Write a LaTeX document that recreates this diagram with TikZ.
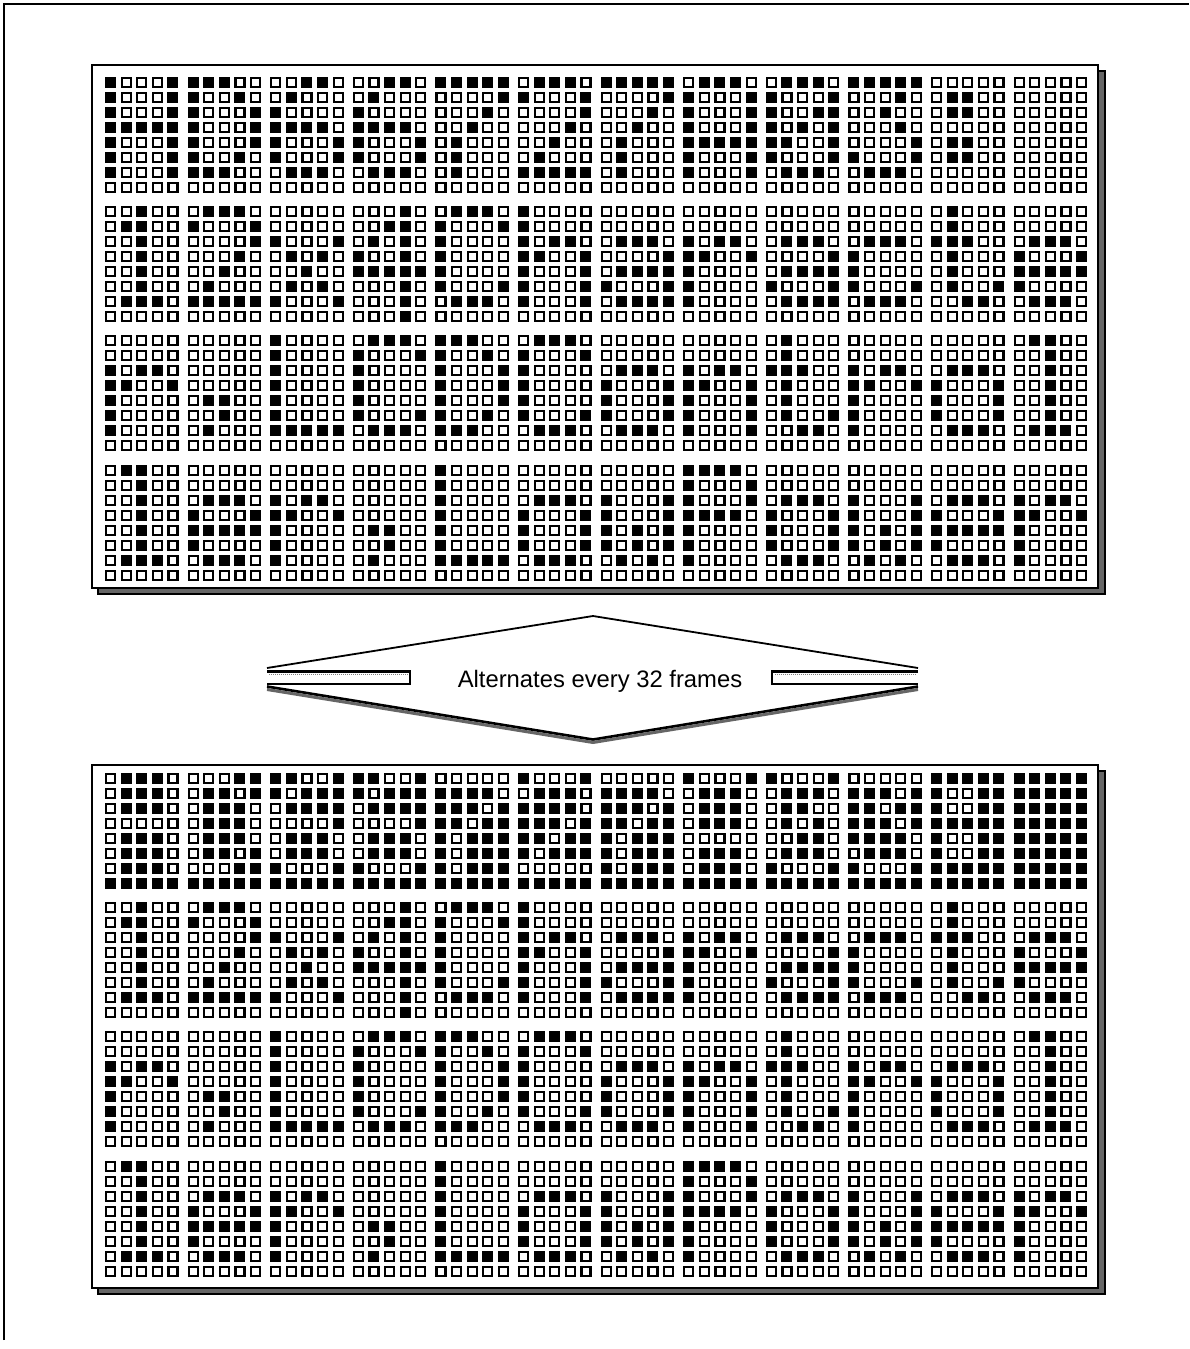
\documentclass[tikz,border=0pt]{standalone}
\usepackage{fontspec}
\setmainfont{Liberation Sans}
\newcount\lcdinv
% one dot: column, row, bit  (uses \lcdX, \lcdY of the glyph)
\newcommand\lcddot[3]{%
  \pgfmathsetmacro\dotXpos{\lcdX+15.6*#1}%
  \pgfmathsetmacro\dotYpos{\lcdY+15*#2}%
  \ifnum\numexpr#3+\lcdinv\relax=1
    \fill[dot on] (\dotXpos,\dotYpos) rectangle ++(11,11);
  \else
    \draw[dot off] (\dotXpos+1,\dotYpos+1) rectangle ++(9,9);
  \fi}
\def\lcdrow#1#2#3#4#5#6{\lcddot{0}{#1}{#2}\lcddot{1}{#1}{#3}\lcddot{2}{#1}{#4}\lcddot{3}{#1}{#5}\lcddot{4}{#1}{#6}}
\def\lcdrows#1#2#3#4#5#6#7#8{\lcdrow{0}#1\lcdrow{1}#2\lcdrow{2}#3\lcdrow{3}#4\lcdrow{4}#5\lcdrow{5}#6\lcdrow{6}#7\lcdrow{7}#8}
\def\lcdglyph#1{\expandafter\expandafter\expandafter\lcdrows\csname gl#1\endcsname}
\def\defglyph#1#2{\expandafter\def\csname gl#1\endcsname{#2}}
% 5x8 glyphs
\defglyph{H}{{10001}{10001}{10001}{11111}{10001}{10001}{10001}{00000}}
\defglyph{D}{{11100}{10010}{10001}{10001}{10001}{10010}{11100}{00000}}
\defglyph{6}{{00110}{01000}{10000}{11110}{10001}{10001}{01110}{00000}}
\defglyph{7}{{11111}{00001}{00010}{00100}{01000}{01000}{01000}{00000}}
\defglyph{2}{{01110}{10001}{00001}{00010}{00100}{01000}{11111}{00000}}
\defglyph{A}{{01110}{10001}{10001}{10001}{11111}{10001}{10001}{00000}}
\defglyph{0}{{01110}{10001}{10011}{10101}{11001}{10001}{01110}{00000}}
\defglyph{3}{{11111}{00010}{00100}{00010}{00001}{10001}{01110}{00000}}
\defglyph{colon}{{00000}{01100}{01100}{00000}{01100}{01100}{00000}{00000}}
\defglyph{sp}{{00000}{00000}{00000}{00000}{00000}{00000}{00000}{00000}}
\defglyph{1}{{00100}{01100}{00100}{00100}{00100}{00100}{01110}{00000}}
\defglyph{x}{{00000}{00000}{10001}{01010}{00100}{01010}{10001}{00000}}
\defglyph{4}{{00010}{00110}{01010}{10010}{11111}{00010}{00010}{00010}}
\defglyph{C}{{01110}{10001}{10000}{10000}{10000}{10001}{01110}{00000}}
\defglyph{h}{{10000}{10000}{10110}{11001}{10001}{10001}{10001}{00000}}
\defglyph{a}{{00000}{00000}{01110}{00001}{01111}{10001}{01111}{00000}}
\defglyph{r}{{00000}{00000}{10110}{11001}{10000}{10000}{10000}{00000}}
\defglyph{c}{{00000}{00000}{01110}{10000}{10000}{10001}{01110}{00000}}
\defglyph{t}{{01000}{01000}{11100}{01000}{01000}{01001}{00110}{00000}}
\defglyph{e}{{00000}{00000}{01110}{10001}{11111}{10000}{01110}{00000}}
\defglyph{comma}{{00000}{00000}{00000}{00000}{01100}{00100}{01000}{00000}}
\defglyph{L}{{10000}{10000}{10000}{10000}{10000}{10000}{11111}{00000}}
\defglyph{o}{{00000}{00000}{01110}{10001}{10001}{10001}{01110}{00000}}
\defglyph{n}{{00000}{00000}{10110}{11001}{10001}{10001}{10001}{00000}}
\defglyph{l}{{01100}{00100}{00100}{00100}{00100}{00100}{01110}{00000}}
\defglyph{w}{{00000}{00000}{10001}{10001}{10101}{10101}{01010}{00000}}
\defglyph{P}{{11110}{10001}{10001}{11110}{10000}{10000}{10000}{00000}}
\def\textrowA{H,D,6,6,7,2,7,A,0,3,colon,sp}
\def\textrowB{1,2,x,4,C,h,a,r,a,c,t,e}
\def\textrowC{r,comma,L,C,D,C,o,n,t,r,o,l}
\def\textrowD{l,e,r,comma,L,o,w,P,o,w,e,r}
% y of row, list of glyphs, inverse flag
\newcommand\lcdtextrow[3]{%
  \global\lcdinv=#3\relax
  \foreach \ch [count=\ci from 0] in #2 {%
    \pgfmathsetmacro\lcdX{105+82.6*\ci}%
    \def\lcdY{#1}%
    \lcdglyph{\ch}%
  }%
  \global\lcdinv=0\relax}
\tikzset{
  dot on/.style={fill=black},
  dot off/.style={draw=black, line width=2.2, fill=white},
  panel/.style={draw=black, line width=1.6, fill=white},
  shadow/.style={draw=black, line width=1.2, fill=black!60},
  slot/.style={draw=black, line width=2.8, fill=white, line join=miter},
}
\begin{document}
\begin{tikzpicture}[x=1pt,y=-1pt]
\useasboundingbox (0,0) rectangle (1189,1349);
% page frame
\draw[line width=1.3] (4,1340) -- (4,4) -- (1189,4);
% top panel
\draw[shadow] (1098,71) -- (1105,71) -- (1105,594) -- (98,594) -- (98,588) -- (1098,588) -- cycle;
\draw[panel] (92,65) rectangle (1098,588);
\lcdtextrow{77}{\textrowA}{0}
\lcdtextrow{206}{\textrowB}{0}
\lcdtextrow{335}{\textrowC}{0}
\lcdtextrow{465}{\textrowD}{0}
% bottom panel
\draw[shadow] (1098,771) -- (1105,771) -- (1105,1294) -- (98,1294) -- (98,1288) -- (1098,1288) -- cycle;
\draw[panel] (92,765) rectangle (1098,1288);
\lcdtextrow{773}{\textrowA}{1}
\lcdtextrow{902}{\textrowB}{0}
\lcdtextrow{1031}{\textrowC}{0}
\lcdtextrow{1161}{\textrowD}{0}
% double arrow
\draw[black!60, line width=3] (267,689.5) -- (593,742.5) -- (918,689.5);
\draw[line width=2.6, line join=miter] (267,686.5) -- (593,739.5) -- (918,686.5);
\draw[line width=1.8, line join=miter] (267,668) -- (593,616) -- (918,668);
\draw[slot] (267,671.5) -- (410,671.5) -- (410,684) -- (267,684);
\draw[black!50, line width=1, densely dotted] (269,674.5) -- (408,674.5);
\draw[slot] (918,671.5) -- (772,671.5) -- (772,684) -- (918,684);
\draw[black!50, line width=1, densely dotted] (916,674.5) -- (774,674.5);
\node[anchor=base, inner sep=0, font=\fontsize{23.8}{28}\selectfont] (lbl) at (600,687) {Alternates every 32 frames};
\end{tikzpicture}
\end{document}
